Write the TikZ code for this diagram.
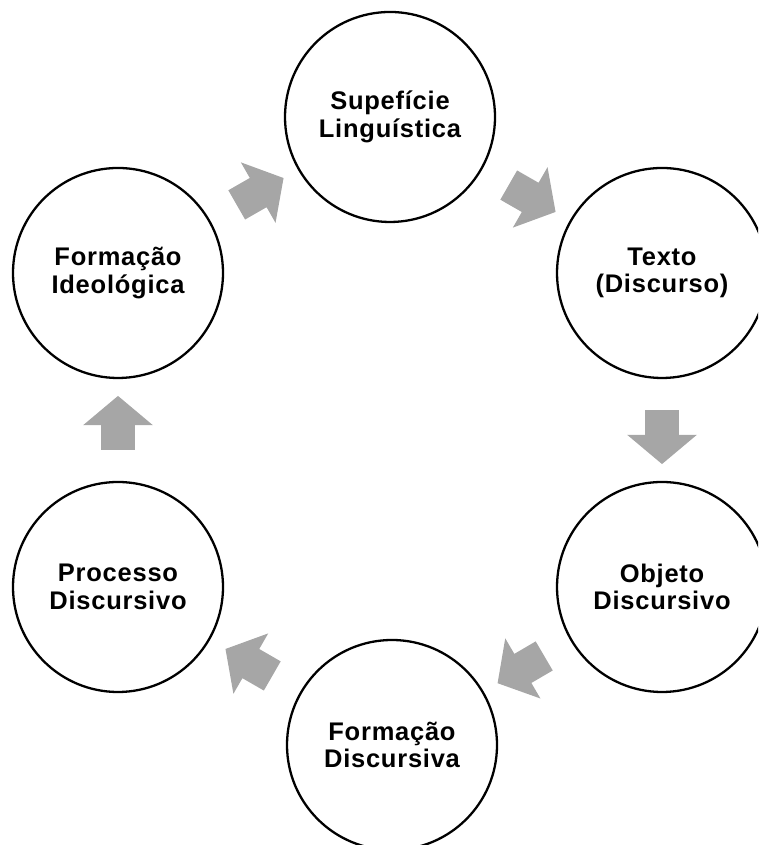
\documentclass[tikz,border=0pt]{standalone}
\usepackage{fontspec}
\setmainfont{Liberation Sans}[LetterSpace=3]
\usepackage{xcolor}
\usepackage{tikz}
\usetikzlibrary{shapes.arrows}

\definecolor{arrowgray}{RGB}{166,166,166}

\begin{document}
\begin{tikzpicture}[
    stage/.style={circle, draw, line width=1.3pt, fill=white, minimum size=4.2cm, align=center, font=\fontsize{14.5}{15.6}\selectfont\bfseries},
    flow/.style={single arrow, fill=arrowgray, draw=none, inner xsep=0pt, inner ysep=0.33cm, minimum height=1.08cm, single arrow head extend=0.36cm, single arrow tip angle=100, sloped, allow upside down}
]
    \clip (0,0) rectangle (15.16,16.9);

    \node[stage] (SL) at (7.8,14.56) {Supefície\\Linguística};
    \node[stage] (TX) at (13.24,11.44) {Texto\\(Discurso)};
    \node[stage] (OD) at (13.24,5.16) {Objeto\\Discursivo};
    \node[stage] (FD) at (7.84,2.0) {Formação\\Discursiva};
    \node[stage] (PD) at (2.36,5.16) {Processo\\Discursivo};
    \node[stage] (FI) at (2.36,11.44) {Formação\\Ideológica};

    \path (SL) -- node[flow] (SL_TX) {} (TX);
    \path (TX) -- node[flow] (TX_OD) {} (OD);
    \path (OD) -- node[flow] (OD_FD) {} (FD);
    \path (FD) -- node[flow] (FD_PD) {} (PD);
    \path (PD) -- node[flow] (PD_FI) {} (FI);
    \path (FI) -- node[flow] (FI_SL) {} (SL);
\end{tikzpicture}
\end{document}
